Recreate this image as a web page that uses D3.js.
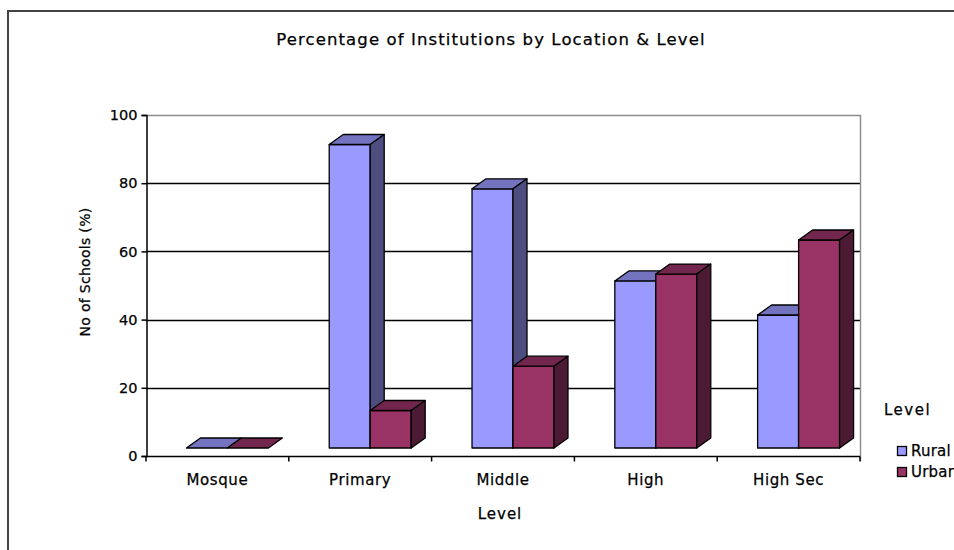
<!DOCTYPE html>
<html>
<head>
<meta charset="utf-8">
<script src="https://cdn.jsdelivr.net/npm/d3@7"></script>
<style>
  html, body { margin: 0; padding: 0; background: #ffffff; }
  svg { display: block; }
  text { font-family: "DejaVu Sans", sans-serif; fill: #000; stroke: #000; stroke-width: 0.25px; }
</style>
</head>
<body>
<svg id="chart" width="954" height="550"></svg>
<script>
// ---- data ----
const categories = ["Mosque", "Primary", "Middle", "High", "High Sec"];
const seriesNames = ["Rural", "Urban"];
const rural = [0, 89, 76, 49, 39];
const urban = [0, 11, 24, 51, 61];
const yTicks = [0, 20, 40, 60, 80, 100];
const title = "Percentage of Institutions by Location & Level";
const xTitle = "Level";
const yTitle = "No of Schools (%)";
const legendTitle = "Level";

// ---- styles ----
const colors = {
  Rural: { front: "#9999FF", top: "#7373C0", side: "#4D4D80" },
  Urban: { front: "#993366", top: "#73264D", side: "#4D1A33" }
};

const svg = d3.select("#chart");

// chart frame
svg.append("rect")
  .attr("x", 8).attr("y", 11).attr("width", 1000).attr("height", 600)
  .attr("fill", "none").attr("stroke", "#444").attr("stroke-width", 2);

const plot = { left: 146, right: 860, top: 115, bottom: 456 };

const x = d3.scaleBand().domain(categories).range([plot.left, plot.right]).padding(0);
const y = d3.scaleLinear().domain([0, 100]).range([plot.bottom, plot.top]);

// 3D geometry
const depthDx = 14, depthDy = 10;
const shiftX = 10, lift = 8;
const barW = x.bandwidth() * 0.287;

// gridlines
svg.append("g").selectAll("line")
  .data(yTicks.filter(t => t > 0 && t < 100))
  .join("line")
  .attr("x1", plot.left).attr("x2", plot.right)
  .attr("y1", d => Math.round(y(d)) + 0.5).attr("y2", d => Math.round(y(d)) + 0.5)
  .attr("stroke", "#000").attr("stroke-width", 1.5);

// plot border top & right (grey)
svg.append("path")
  .attr("d", `M${plot.left},${Math.round(y(100)) + 0.5}H${plot.right + 0.5}V${plot.bottom + 5}`)
  .attr("fill", "none").attr("stroke", "#8c8c8c").attr("stroke-width", 1.4);

// bars
const data = categories.map((c, i) => ({ c, vals: [rural[i], urban[i]] }));
const gBars = svg.append("g");
data.forEach(d => {
  const center = x(d.c) + x.bandwidth() / 2 + shiftX;
  d.vals.forEach((v, si) => {
    const name = seriesNames[si];
    const col = colors[name];
    const x0 = center - barW + si * barW;
    const x1 = x0 + barW;
    const yb = y(0) - lift;
    const yt = y(v) - lift;
    const g = gBars.append("g").attr("stroke", "#000").attr("stroke-width", 1.3).attr("stroke-linejoin", "round");
    // front
    g.append("rect").attr("x", x0).attr("y", yt).attr("width", barW).attr("height", yb - yt)
      .attr("fill", col.front);
    // top
    g.append("path")
      .attr("d", `M${x0},${yt}L${x0 + depthDx},${yt - depthDy}L${x1 + depthDx},${yt - depthDy}L${x1},${yt}Z`)
      .attr("fill", col.top);
    // side
    if (v > 0) {
      g.append("path")
        .attr("d", `M${x1},${yt}L${x1 + depthDx},${yt - depthDy}L${x1 + depthDx},${yb - depthDy}L${x1},${yb}Z`)
        .attr("fill", col.side);
    }
  });
});

// y axis
const yAxis = d3.axisLeft(y).tickValues(yTicks).tickSize(5).tickPadding(4).tickFormat(d3.format("d"));
const gy = svg.append("g").attr("transform", `translate(${plot.left + 0.5},0)`).call(yAxis);
gy.select(".domain").attr("stroke", "#000").attr("stroke-width", 1.5);
gy.selectAll(".tick line").attr("stroke", "#000").attr("stroke-width", 1.5);
gy.selectAll(".tick text").attr("font-size", 14.5).attr("font-family", "DejaVu Sans").attr("fill", "#000");

// x axis (labels at band centers, ticks at band boundaries)
const gx = svg.append("g").attr("transform", `translate(0,${plot.bottom + 0.5})`);
gx.append("line").attr("x1", plot.left).attr("x2", plot.right)
  .attr("stroke", "#000").attr("stroke-width", 1.5);
const bounds = categories.map(c => x(c)).concat([x(categories[categories.length - 1]) + x.bandwidth()]);
gx.selectAll("line.tk").data(bounds).join("line").attr("class", "tk")
  .attr("x1", d => d).attr("x2", d => d).attr("y1", 0).attr("y2", 5)
  .attr("stroke", "#000").attr("stroke-width", 1.5);
gx.selectAll("text").data(categories).join("text")
  .attr("x", d => x(d) + x.bandwidth() / 2)
  .attr("y", 28)
  .attr("text-anchor", "middle")
  .attr("font-size", 15)
  .attr("letter-spacing", 0.6)
  .text(d => d);

// title
svg.append("text")
  .attr("x", 491).attr("y", 45)
  .attr("text-anchor", "middle")
  .attr("font-size", 16.5)
  .attr("letter-spacing", 1.1)
  .text(title);

// x axis title
svg.append("text")
  .attr("x", 500).attr("y", 519)
  .attr("text-anchor", "middle")
  .attr("font-size", 15)
  .attr("letter-spacing", 1.0)
  .text(xTitle);

// y axis title
svg.append("text")
  .attr("transform", "translate(90,272) rotate(-90)")
  .attr("text-anchor", "middle")
  .attr("font-size", 14)
  .attr("letter-spacing", 0.3)
  .text(yTitle);

// legend
const lg = svg.append("g");
lg.append("text").attr("x", 884).attr("y", 415).attr("font-size", 15).attr("letter-spacing", 1.5).text(legendTitle);
seriesNames.forEach((n, i) => {
  const yy = 446 + i * 21;
  lg.append("rect").attr("x", 897.5).attr("y", yy + 0.5).attr("width", 9).attr("height", 9)
    .attr("fill", colors[n].front).attr("stroke", "#000").attr("stroke-width", 1.3);
  lg.append("text").attr("x", 911).attr("y", yy + 10).attr("font-size", 15).attr("letter-spacing", 0.2).text(n);
});
</script>
</body>
</html>
